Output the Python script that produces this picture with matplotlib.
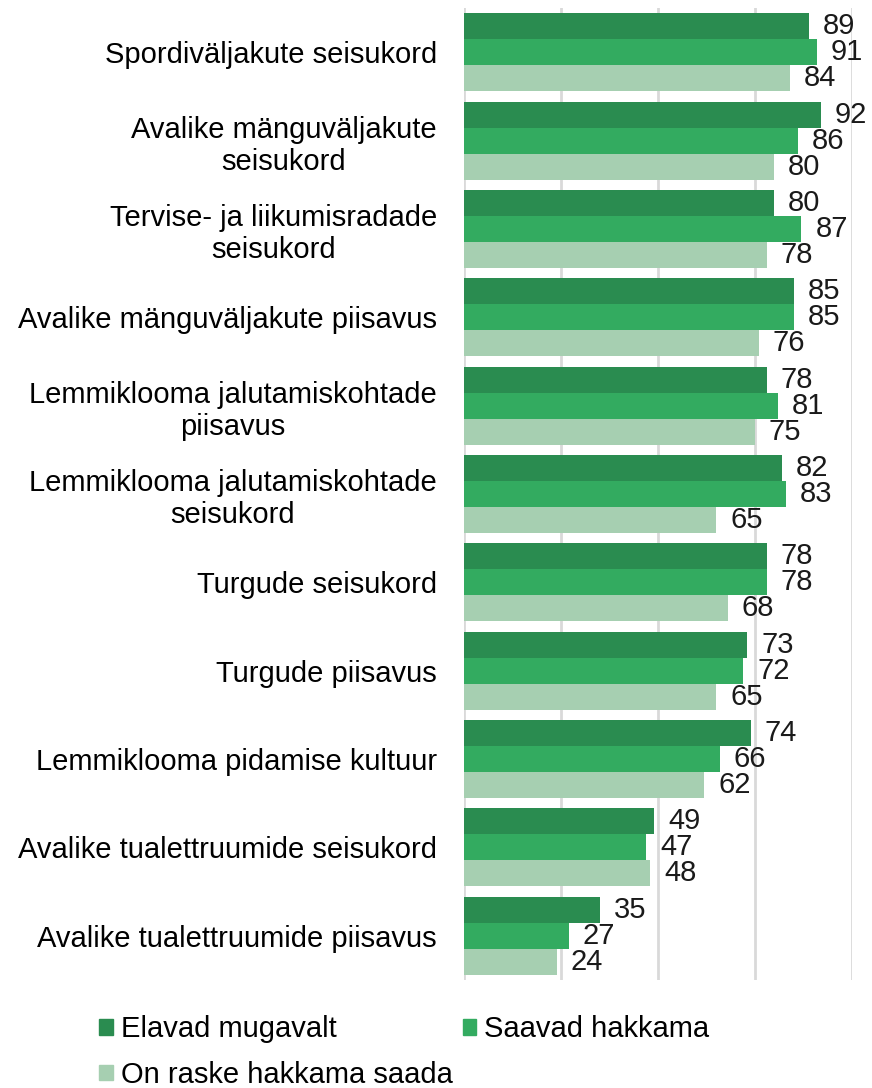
import matplotlib
matplotlib.use("Agg")
import matplotlib.pyplot as plt
from matplotlib.patches import Patch
import numpy as np

plt.rcParams['font.family'] = ['Liberation Sans', 'DejaVu Sans']

categories = [
    "Spordiväljakute seisukord",
    "Avalike mänguväljakute\nseisukord",
    "Tervise- ja liikumisradade\nseisukord",
    "Avalike mänguväljakute piisavus",
    "Lemmiklooma jalutamiskohtade\npiisavus",
    "Lemmiklooma jalutamiskohtade\nseisukord",
    "Turgude seisukord",
    "Turgude piisavus",
    "Lemmiklooma pidamise kultuur",
    "Avalike tualettruumide seisukord",
    "Avalike tualettruumide piisavus",
]
series_names = ["Elavad mugavalt", "Saavad hakkama", "On raske hakkama saada"]
elavad = [89, 92, 80, 85, 78, 82, 78, 73, 74, 49, 35]
saavad = [91, 86, 87, 85, 81, 83, 78, 72, 66, 47, 27]
raske = [84, 80, 78, 76, 75, 65, 68, 65, 62, 48, 24]
colors = ["#2A8C50", "#33AB60", "#A6CFB1"]

FS = 21

fig = plt.figure(figsize=(8.72, 10.88), dpi=100)
ax = fig.add_axes([0.532, 0.0993, 0.445, 0.8933])

n = len(categories)
y = np.arange(n)
h = 0.294
for i, (vals, c) in enumerate(zip([elavad, saavad, raske], colors)):
    pos = y + (i - 1) * h
    ax.barh(pos, vals, height=h, color=c, zorder=2)
    for p, v in zip(pos, vals):
        ax.annotate(str(v), (v, p), xytext=(10, 0), textcoords="offset points",
                    ha="left", va="center", fontsize=FS, color="#1a1a1a")

ax.set_ylim(n - 0.5, -0.5)
ax.set_xlim(0, 100)
ax.set_xticks([0, 25, 50, 75, 100])
ax.set_xticklabels([])
ax.tick_params(axis='x', length=0)
ax.grid(axis='x', color="#D9D9D9", linewidth=2, zorder=0)
for s in ax.spines.values():
    s.set_visible(False)
ax.set_yticks(y)
ax.set_yticklabels(categories, fontsize=FS, linespacing=1.2)
for lab in ax.get_yticklabels():
    lab.set_multialignment("center")
ax.tick_params(axis='y', length=0, pad=19.5)

handles = [Patch(color=c) for c in colors]
fig.legend(handles[:2], series_names[:2], loc="lower left",
           bbox_to_anchor=(0.084, 0.017), ncol=2, frameon=False,
           fontsize=FS, handlelength=0.45, handleheight=0.45, handletextpad=0.3,
           columnspacing=4.3)
fig.legend(handles[2:], series_names[2:], loc="lower left",
           bbox_to_anchor=(0.084, -0.025), ncol=1, frameon=False,
           fontsize=FS, handlelength=0.45, handleheight=0.45, handletextpad=0.3)

fig.savefig("out.png", dpi=100)
